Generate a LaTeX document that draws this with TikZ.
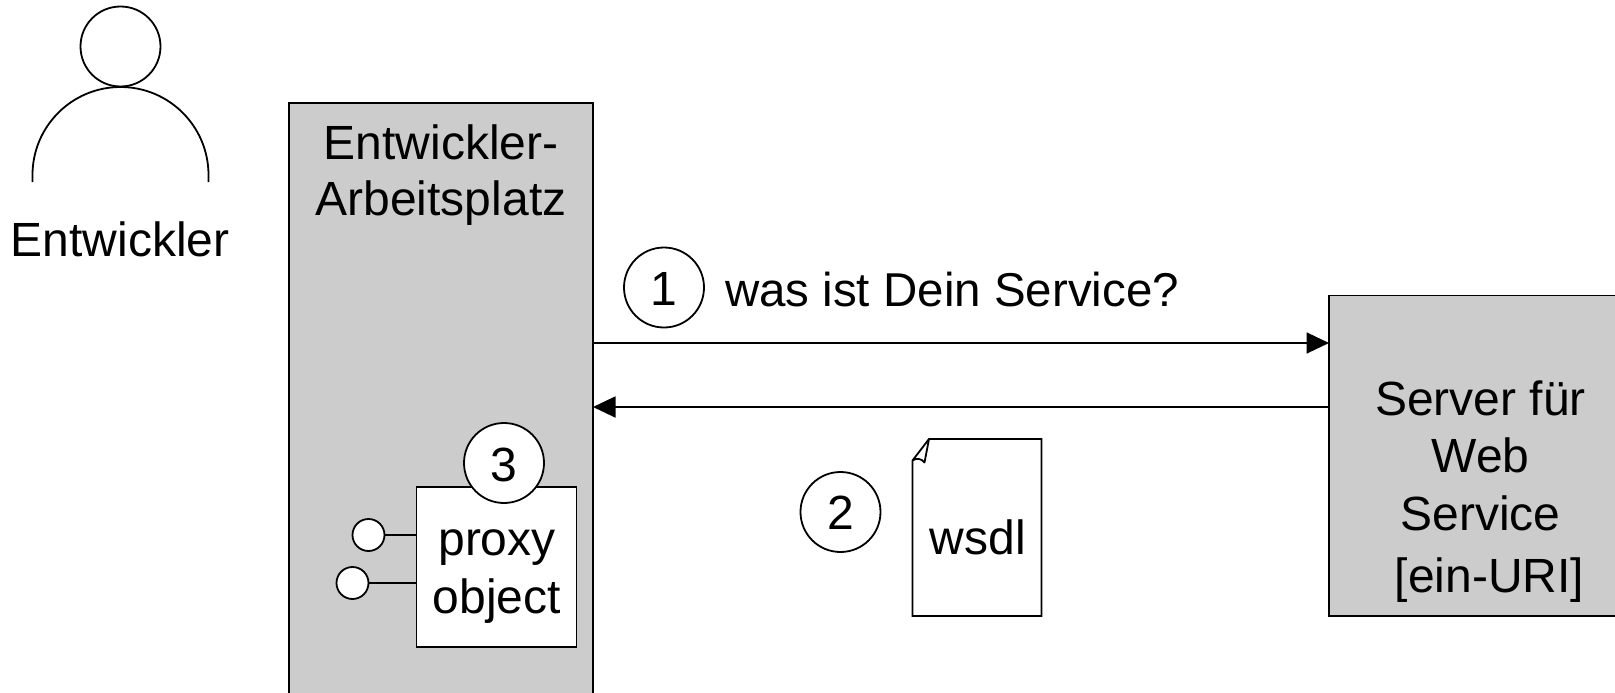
\documentclass[tikz,border=0pt]{standalone}
\usepackage{fontspec}
\setmainfont{Liberation Sans}
\usetikzlibrary{arrows.meta}
\definecolor{boxgray}{HTML}{CCCCCC}
\tikzset{
  every node/.style={inner sep=0pt,outer sep=0pt},
  lbl/.style={font=\fontsize{48}{57}\selectfont,align=center},
  shape box/.style={draw=black,line width=1.8pt,rectangle,anchor=north west},
  num/.style={draw=black,line width=1.8pt,circle,fill=white,minimum size=80pt},
  numtext/.style={font=\fontsize{48}{57}\selectfont,anchor=base},
  port/.style={draw=black,line width=1.8pt,circle,fill=white,minimum size=32pt},
  line/.style={draw=black,line width=1.8pt},
  flow/.style={line,-{Triangle[length=22.5pt,width=21pt]}}
}
\begin{document}
\begin{tikzpicture}[x=1pt,y=-1pt]
\useasboundingbox (0,0) rectangle (1615,693);
\clip (0,0) rectangle (1615,693);
% actor
\node[port,minimum size=80pt] (head) at (120.5,46.5) {};
\draw[line] (32.5,182) -- (32.5,175) arc[start angle=180,end angle=360,radius=88] -- (208.5,182);
\node[lbl,anchor=base] (actorlabel) at (120,256) {Entwickler};
% workstation
\node[shape box,fill=boxgray,minimum width=304pt,minimum height=640pt] (ws) at (289,103) {};
\node[lbl,anchor=base,font=\fontsize{48}{56}\selectfont] (wslabel) at (441,215) {Entwickler-\\Arbeitsplatz};
% server
\node[shape box,fill=boxgray,minimum width=300pt,minimum height=320.5pt] (server) at (1329,295.5) {};
\node[lbl,anchor=base] (serverlabel) at (1480.5,592) {Server für\\Web\\[1pt]Service\\[5pt]\hspace*{18pt}[ein-URI]};
% messages
\coordinate (m1) at (0,343);
\coordinate (m2) at (0,407);
\draw[flow] (ws.east |- m1) -- (server.west |- m1);
\draw[flow] (server.west |- m2) -- (ws.east |- m2);
\node[num] (n1) at (664,287.5) {};
\node[numtext] (n1t) at (663.5,305.5) {1};
\node[lbl,anchor=base west,font=\fontsize{47.5}{57}\selectfont] (q) at (725,306) {was ist Dein Service?};
\node[num] (n2) at (840.5,512) {};
\node[numtext] (n2t) at (840.5,529) {2};
% document
\draw[line,line join=miter] (912.5,616) -- (912.5,460.5) -- (929,439) -- (1041.5,439) -- (1041.5,616) -- cycle;
\draw[line,line join=round] (929,439) -- (924.5,462.5) .. controls (921,458) and (916,458) .. (912.5,460.5);
\node[lbl,anchor=base] (wsdl) at (978,554) {wsdl};
% proxy
\node[shape box,fill=white,minimum width=160pt,minimum height=160pt] (proxy) at (416.5,487) {};
\node[lbl,anchor=base,font=\fontsize{48}{58}\selectfont] (proxylabel) at (497,613) {proxy\\object};
\node[num] (n3) at (504,463) {};
\node[numtext] (n3t) at (503.5,481.5) {3};
\node[port] (p1) at (368.5,535) {};
\node[port] (p2) at (352.5,583) {};
\draw[line] (p1) -- (proxy.west |- p1);
\draw[line] (p2) -- (proxy.west |- p2);
\end{tikzpicture}
\end{document}
